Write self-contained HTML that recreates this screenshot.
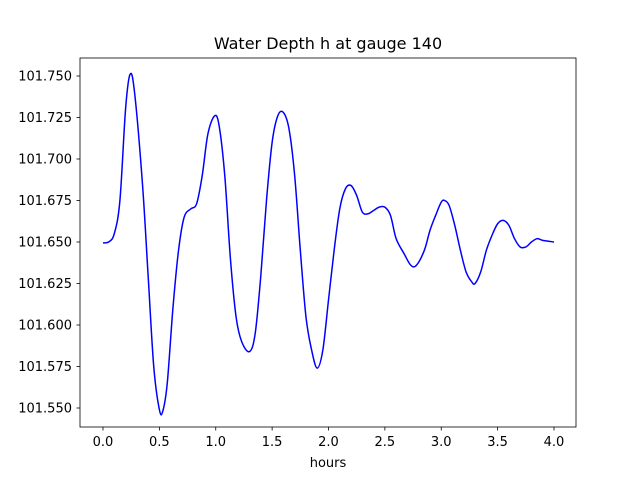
<!DOCTYPE html>
<html><head><meta charset="utf-8"><style>
body{margin:0;background:#fff;}
text{font-family:"DejaVu Sans","Liberation Sans",sans-serif;fill:#000;}
</style></head><body>
<svg id="chart" width="640" height="480" xmlns="http://www.w3.org/2000/svg">
<rect width="640" height="480" fill="#fff"/>
<text x="328" y="49" font-size="16" text-anchor="middle">Water Depth h at gauge 140</text>
<g id="ticks"></g>
<path id="line" fill="none" stroke="#0000ff" stroke-width="1.5"/>
<rect x="80" y="58" width="496" height="369" fill="none" stroke="#000" stroke-width="0.8"/>
<text x="328" y="467" font-size="13" text-anchor="middle">hours</text>
</svg>
<script>
const hours=[0,0.05,0.1,0.15,0.2,0.24,0.28,0.35,0.4,0.45,0.5,0.53,0.57,0.62,0.67,0.72,0.78,0.83,0.88,0.93,0.99,1.03,1.08,1.13,1.18,1.23,1.3,1.35,1.4,1.45,1.5,1.55,1.6,1.65,1.7,1.75,1.8,1.85,1.9,1.95,2.0,2.05,2.1,2.15,2.2,2.25,2.3,2.35,2.4,2.45,2.5,2.55,2.6,2.67,2.73,2.78,2.85,2.9,2.95,3.0,3.03,3.07,3.12,3.17,3.22,3.27,3.3,3.35,3.4,3.45,3.5,3.55,3.6,3.65,3.7,3.75,3.8,3.85,3.9,4.0];
const depth=[101.6495,101.650,101.655,101.675,101.73,101.751,101.74,101.685,101.63,101.575,101.549,101.548,101.565,101.61,101.645,101.665,101.670,101.673,101.69,101.715,101.726,101.72,101.69,101.64,101.605,101.59,101.584,101.595,101.63,101.675,101.71,101.726,101.728,101.718,101.69,101.645,101.605,101.585,101.574,101.585,101.615,101.645,101.670,101.682,101.684,101.678,101.668,101.667,101.669,101.671,101.671,101.666,101.652,101.643,101.636,101.636,101.645,101.657,101.666,101.674,101.675,101.672,101.66,101.645,101.632,101.626,101.625,101.632,101.645,101.654,101.661,101.663,101.66,101.652,101.647,101.647,101.650,101.652,101.651,101.650];
const xTicks=[0,0.5,1,1.5,2,2.5,3,3.5,4];
const xTickLabels=["0.0","0.5","1.0","1.5","2.0","2.5","3.0","3.5","4.0"];
const yTicks=[101.55,101.575,101.6,101.625,101.65,101.675,101.7,101.725,101.75];
const yTickLabels=["101.550","101.575","101.600","101.625","101.650","101.675","101.700","101.725","101.750"];
const X=v=>103+v*112.75;
const Y=v=>76+(101.75-v)*1660;
const NS="http://www.w3.org/2000/svg";
const g=document.getElementById('ticks');
xTicks.forEach((t,i)=>{
 const l=document.createElementNS(NS,'line');
 l.setAttribute('x1',X(t));l.setAttribute('x2',X(t));l.setAttribute('y1',427);l.setAttribute('y2',430.5);l.setAttribute('stroke','#000');l.setAttribute('stroke-width','0.8');
 
 
 g.appendChild(l);
 const tx=document.createElementNS(NS,'text');
 tx.setAttribute('x',X(t));tx.setAttribute('y',446);tx.setAttribute('font-size','13');tx.setAttribute('text-anchor','middle');
 tx.textContent=xTickLabels[i];
 
 
 g.appendChild(tx);
});
yTicks.forEach((t,i)=>{
 const l=document.createElementNS(NS,'line');
 l.setAttribute('x1',76.5);l.setAttribute('x2',80);l.setAttribute('y1',Y(t));l.setAttribute('y2',Y(t));l.setAttribute('stroke','#000');l.setAttribute('stroke-width','0.8');
 
 
 g.appendChild(l);
 const tx=document.createElementNS(NS,'text');
 tx.setAttribute('x',72);tx.setAttribute('y',Y(t)+4.5);tx.setAttribute('font-size','13');tx.setAttribute('text-anchor','end');
 tx.textContent=yTickLabels[i];
 
 
 g.appendChild(tx);
});
const pts=hours.map((h,i)=>[X(h),Y(depth[i])]);
let d='M'+pts[0][0]+','+pts[0][1];
for(let i=0;i<pts.length-1;i++){
 const p0=pts[i-1]||pts[i],p1=pts[i],p2=pts[i+1],p3=pts[i+2]||p2;
 const c1=[p1[0]+(p2[0]-p0[0])/6,p1[1]+(p2[1]-p0[1])/6];
 const c2=[p2[0]-(p3[0]-p1[0])/6,p2[1]-(p3[1]-p1[1])/6];
 d+=' C'+c1+' '+c2+' '+p2;
}
document.getElementById('line').setAttribute('d',d);
</script>
</body></html>
